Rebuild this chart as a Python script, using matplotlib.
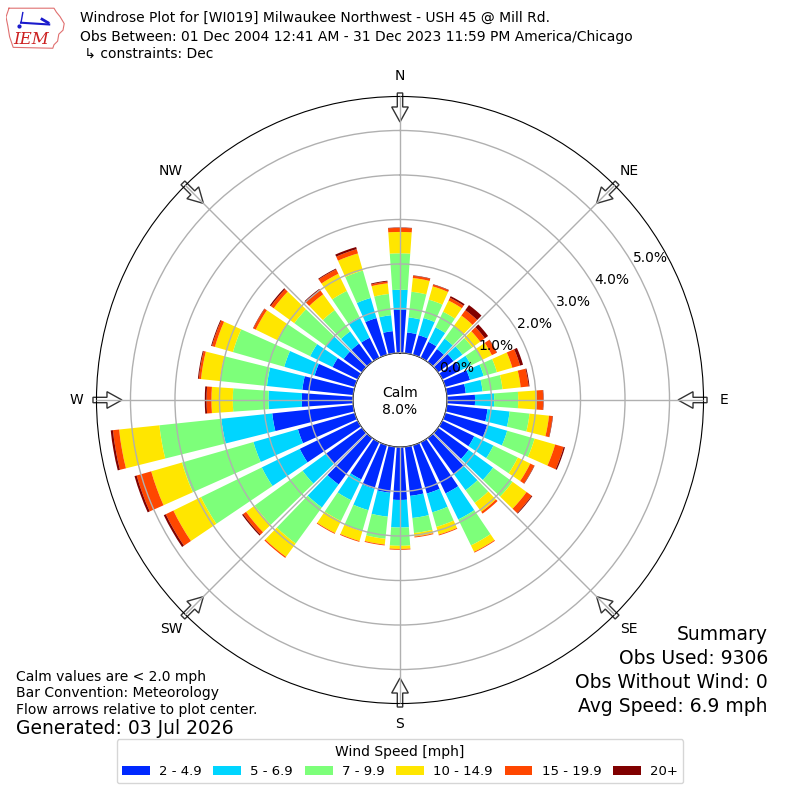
import numpy as np
import matplotlib
matplotlib.use("Agg")
import matplotlib.pyplot as plt
from matplotlib.patches import Patch, Polygon

# wind direction (deg, from) and percent of obs per speed bin
directions = np.arange(0, 360, 10)
speed_labels = ["2 - 4.9", "5 - 6.9", "7 - 9.9", "10 - 14.9", "15 - 19.9", "20+"]

spd_2_5 = [0.97, 0.47, 0.46, 0.40, 0.36, 0.43, 0.46, 0.58, 0.43, 0.63, 0.92, 0.98,
           0.80, 0.85, 1.00, 1.28, 1.13, 1.11, 1.19, 1.04, 1.02, 0.93, 1.29, 1.00,
           1.45, 1.33, 1.83, 1.15, 1.15, 0.94, 0.63, 0.51, 0.51, 0.50, 0.86, 0.50]
spd_5_7 = [0.45, 0.34, 0.40, 0.36, 0.29, 0.25, 0.26, 0.32, 0.38, 0.43, 0.50, 0.47,
           0.48, 0.68, 0.45, 0.65, 0.44, 0.50, 0.62, 0.54, 0.50, 0.52, 0.64, 0.65,
           0.95, 1.04, 1.15, 0.75, 0.80, 0.71, 0.56, 0.49, 0.34, 0.52, 0.47, 0.36]
spd_7_10 = [0.82, 0.58, 0.43, 0.39, 0.35, 0.27, 0.28, 0.31, 0.45, 0.54, 0.45, 0.64,
            0.61, 0.54, 0.35, 0.65, 0.34, 0.34, 0.41, 0.50, 0.49, 0.52, 1.00, 1.33,
            1.52, 1.67, 1.40, 0.80, 1.06, 1.20, 0.82, 0.88, 0.59, 0.65, 0.64, 0.48]
spd_10_15 = [0.48, 0.31, 0.31, 0.28, 0.29, 0.22, 0.24, 0.36, 0.41, 0.42, 0.44, 0.48,
             0.31, 0.39, 0.25, 0.16, 0.18, 0.08, 0.07, 0.13, 0.23, 0.30, 0.37, 0.24,
             0.69, 0.72, 0.91, 0.48, 0.43, 0.42, 0.54, 0.57, 0.44, 0.43, 0.40, 0.24]
spd_15_20 = [0.09, 0.05, 0.04, 0.07, 0.15, 0.13, 0.12, 0.18, 0.18, 0.14, 0.08, 0.20,
             0.10, 0.14, 0.05, 0.02, 0.02, 0.02, 0.02, 0.02, 0.02, 0.02, 0.03, 0.08,
             0.19, 0.34, 0.14, 0.11, 0.05, 0.07, 0.06, 0.08, 0.12, 0.11, 0.10, 0.04]
spd_20p = [0.01, 0.01, 0.01, 0.04, 0.14, 0.09, 0.01, 0.07, 0.02, 0.01, 0.01, 0.03,
           0.01, 0.02, 0.00, 0.00, 0.00, 0.00, 0.00, 0.00, 0.00, 0.00, 0.00, 0.03,
           0.05, 0.05, 0.05, 0.04, 0.02, 0.02, 0.01, 0.03, 0.03, 0.02, 0.05, 0.02]

calm_pct = 8.0
compass = ["N", "NE", "E", "SE", "S", "SW", "W", "NW"]

bins = [spd_2_5, spd_5_7, spd_7_10, spd_10_15, spd_15_20, spd_20p]
colors = plt.cm.jet(np.linspace(0, 1, 7)[1:])

fig = plt.figure(figsize=(8, 8), dpi=100)
ax = fig.add_axes([0.1206, 0.1206, 0.7588, 0.7588], projection="polar")
ax.set_theta_zero_location("N")
ax.set_theta_direction(-1)

theta = np.radians(directions)
bottom = np.zeros(len(directions))
for vals, c in zip(bins, colors):
    vals = np.array(vals)
    ax.bar(theta, vals, width=np.radians(8), bottom=bottom, color=c,
           linewidth=0, zorder=1)
    bottom += vals

ax.set_rorigin(-1.056)
ax.set_ylim(0, 5.764)
ax.set_yticks(range(6))
ax.set_yticklabels([])
ax.set_xticks(np.radians(np.arange(0, 360, 45)))
ax.set_xticklabels([])
ax.set_axisbelow(False)
ax.grid(True, color="#b0b0b0", lw=1)

for v in range(6):
    ax.text(np.radians(60.5), v + 0.41, f"{v:.1f}%", ha="center", va="center",
            fontsize=10, zorder=5)

# compass labels + inward flow arrows
W = 607.0
for i, lab in enumerate(compass):
    b = np.radians(i * 45)
    ax.text(b, 6.22, lab, ha="center", va="center", fontsize=10, clip_on=False)
    s, c = np.sin(b), np.cos(b)
    shape = [(307, -2.7), (293, -2.7), (293, -8.3), (278, 0),
             (293, 8.3), (293, 2.7), (307, 2.7)]
    pts = [(0.5 + (r * s + p * c) / W, 0.5 + (r * c - p * s) / W) for r, p in shape]
    ax.add_patch(Polygon(pts, closed=True, transform=ax.transAxes, facecolor="white",
                         edgecolor="#333333", lw=1, clip_on=False, zorder=2))

fig.text(0.5, 0.5 - 1.5 / 800, f"Calm\n{calm_pct:.1f}%", ha="center", va="center",
         fontsize=10)

# header
fig.text(0.1, 1 - 18 / 800, "Windrose Plot for [WI019] Milwaukee Northwest - USH 45 @ Mill Rd.",
         fontsize=10, va="center")
fig.text(0.1, 1 - 37 / 800,
         "Obs Between: 01 Dec 2004 12:41 AM - 31 Dec 2023 11:59 PM America/Chicago",
         fontsize=10, va="center")
fig.text(0.1, 1 - 54 / 800, " \u21b3 constraints: Dec", fontsize=10, va="center")

# logo
lax = fig.add_axes([6 / 800, 1 - 50 / 800, 60 / 800, 44 / 800])
lax.set_xlim(0, 1)
lax.set_ylim(0, 1)
lax.axis("off")
iowa_x = [0.05, 0.80, 0.84, 0.90, 0.97, 0.95, 0.88, 0.86, 0.80, 0.78, 0.12, 0.06, 0.03, 0.00, 0.05]
iowa_y = [0.95, 0.95, 0.86, 0.76, 0.60, 0.45, 0.36, 0.20, 0.12, 0.04, 0.06, 0.30, 0.55, 0.75, 0.95]
lax.plot(iowa_x, iowa_y, color="#e07070", lw=0.8)
lax.plot([0.25, 0.72], [0.62, 0.58], color="#1a1acc", lw=1.5)
lax.plot([0.25, 0.28], [0.62, 0.85], color="#1a1acc", lw=1)
lax.plot([0.60, 0.70], [0.70, 0.62], color="#1a1acc", lw=2)
lax.plot([0.22], [0.55], "o", color="#1a1acc", ms=2)
lax.text(0.42, 0.25, "IEM", color="#cc2020", fontsize=12, family="DejaVu Serif",
         style="italic", ha="center", va="center")

# footer texts
fig.text(0.02, 1 - 677 / 800, "Calm values are < 2.0 mph", fontsize=10, va="center")
fig.text(0.02, 1 - 693 / 800, "Bar Convention: Meteorology", fontsize=10, va="center")
fig.text(0.02, 1 - 710 / 800, "Flow arrows relative to plot center.", fontsize=10, va="center")
fig.text(0.02, 1 - 729 / 800, "Generated: 03 Jul 2026", fontsize=13.5, va="center")

summary = ["Summary", "Obs Used: 9306", "Obs Without Wind: 0", "Avg Speed: 6.9 mph"]
for k, line in enumerate(summary):
    fig.text(0.96, 1 - (635 + 23.7 * k) / 800, line, fontsize=13.5, ha="right", va="center")

handles = [Patch(facecolor=c) for c in colors]
fig.legend(handles, speed_labels, loc="lower center", bbox_to_anchor=(0.5, 0.0125),
           ncol=6, title="Wind Speed [mph]", fontsize=9.5, title_fontsize=10,
           handlelength=2.1, handleheight=0.7, handletextpad=0.7, columnspacing=0.9)

fig.savefig("out.png", dpi=100)
